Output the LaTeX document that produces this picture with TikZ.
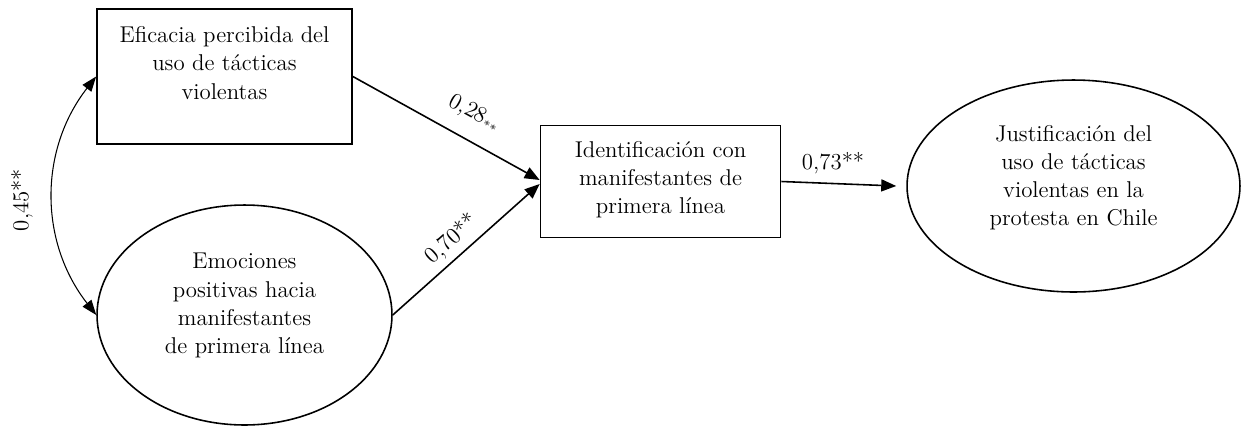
\documentclass[tikz,border=0pt]{standalone}
\usepackage{tikz}
\usetikzlibrary{arrows.meta,calc,positioning,shapes}

\tikzset{
  box/.style={draw,line width=1pt,rectangle},
  oval/.style={draw,line width=0.9pt,ellipse},
  txt/.style={align=center},
  path/.style={line width=0.9pt,-{Triangle[length=0.3cm,width=0.24cm]}},
}

\begin{document}
\begin{tikzpicture}[x=0.02cm,y=-0.02cm,font=\fontsize{13}{16}\selectfont]
  \useasboundingbox (0,0) rectangle (1244,427);
  \node [box,minimum width=5.1cm,minimum height=2.7cm,
    label={[txt,yshift=0.27cm]center:{Eficacia percibida del\\uso de tácticas\\violentas}}] (eff) at (224.5,76.5) {};
  \node [oval,minimum width=5.9cm,minimum height=4.4cm,
    label={[txt,yshift=0.19cm]center:{Emociones\\positivas hacia\\manifestantes\\de primera línea}}] (emo) at (244.5,315) {};
  \node [box,minimum width=4.8cm,minimum height=2.24cm,
    label={[txt,yshift=0.03cm]center:{Identificación con\\manifestantes de\\primera línea}}] (idf) at (660.5,181.5) {};
  \node [oval,minimum width=6.66cm,minimum height=4.24cm,
    label={[txt,yshift=0.17cm]center:{Justificación del\\uso de tácticas\\violentas en la\\protesta en Chile}}] (jus) at (1073.5,186) {};
  \coordinate (in1) at ([yshift=0.03cm]idf.west);
  \coordinate (in2) at ([yshift=-0.05cm]idf.west);
  \coordinate (out) at ([xshift=-0.2cm]jus.west);
  \draw [path] (eff.east) -- node[pos=0.58,sloped,above=0.2cm] {0,28\raisebox{-0.4ex}{\scriptsize**}} (in1);
  \draw [path] (emo.east) -- node[pos=0.48,sloped,above] {0,70**} (in2);
  \draw [path] (idf.east) -- node[pos=0.45,above=0.05cm] {0,73**} (out);
  \draw [line width=0.6pt,{Triangle[length=0.3cm,width=0.22cm]}-{Triangle[length=0.3cm,width=0.22cm]}]
    (eff.west) to[bend right=38] (emo.west);
  \node [rotate=90] (r45) at (22,200) {0,45**};
\end{tikzpicture}
\end{document}
